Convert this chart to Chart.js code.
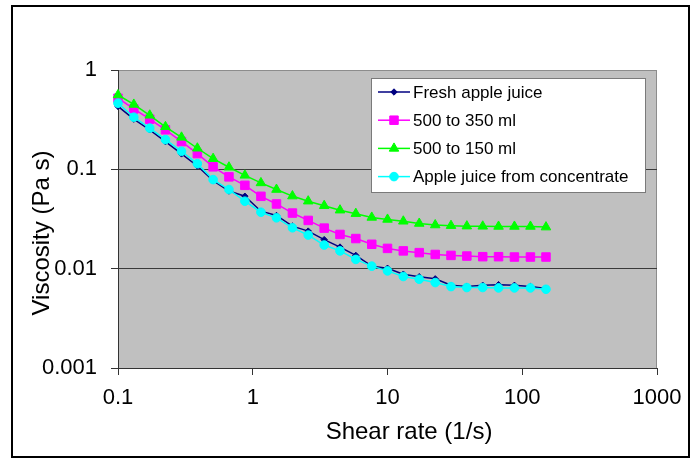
<!DOCTYPE html>
<html>
<head>
<meta charset="utf-8">
<title>Viscosity vs shear rate</title>
<script src="https://cdn.jsdelivr.net/npm/chart.js@4.4.0/dist/chart.umd.min.js"></script>
<style>
  html, body { margin: 0; padding: 0; background: #fff; }
  canvas { display: block; }
</style>
</head>
<body>
<canvas id="viscosityChart" width="699" height="459"></canvas>
<script>
// shear rate (1/s)
const shearRate = [0.1, 0.131, 0.172, 0.225, 0.296, 0.388, 0.508, 0.666, 0.874, 1.15,
    1.5, 1.97, 2.58, 3.39, 4.44, 5.82, 7.64, 10.0, 13.1, 17.2,
    22.6, 29.6, 38.8, 50.9, 66.7, 87.5, 115, 150];

// viscosity (Pa s)
const freshJuice = [0.43, 0.32, 0.25, 0.19, 0.143, 0.108, 0.077, 0.0605, 0.0536, 0.0379,
    0.0343, 0.0268, 0.0239, 0.0196, 0.0165, 0.0136, 0.0106, 0.0101, 0.0088, 0.0083,
    0.0079, 0.0068, 0.0066, 0.0068, 0.0069, 0.0068, 0.0066, 0.0063];
const conc350 = [0.52, 0.405, 0.32, 0.25, 0.19, 0.144, 0.106, 0.084, 0.069, 0.0535,
    0.0448, 0.0363, 0.0306, 0.0256, 0.0221, 0.0201, 0.0176, 0.016, 0.0151, 0.0145,
    0.0139, 0.0136, 0.0134, 0.0132, 0.0132, 0.0131, 0.0131, 0.0131];
const conc150 = [0.56, 0.45, 0.35, 0.268, 0.21, 0.163, 0.128, 0.105, 0.087, 0.073,
    0.0626, 0.0538, 0.0478, 0.043, 0.0388, 0.0358, 0.0328, 0.0313, 0.03, 0.0285,
    0.0275, 0.0271, 0.0268, 0.0267, 0.0266, 0.0266, 0.0266, 0.0262];
const fromConcentrate = [0.463, 0.335, 0.26, 0.199, 0.152, 0.114, 0.0788, 0.0626, 0.0478, 0.037,
    0.0325, 0.0258, 0.0218, 0.0173, 0.0151, 0.0124, 0.0106, 0.0095, 0.00834, 0.00783,
    0.00725, 0.0066, 0.00646, 0.00646, 0.0064, 0.0064, 0.0064, 0.0062];

const seriesNames = ['Fresh apple juice', '500 to 350 ml', '500 to 150 ml', 'Apple juice from concentrate'];
const xTicks = [0.1, 1, 10, 100, 1000];
const yTicks = [0.001, 0.01, 0.1, 1];
const xTitle = 'Shear rate (1/s)';
const yTitle = 'Viscosity (Pa s)';

const FONT = '"Liberation Sans", Arial, sans-serif';

function toPoints(values) {
    return shearRate.map((x, i) => ({ x: x, y: values[i] }));
}

function makeSeries(label, values, color, style, radius, order) {
    return {
        label: label,
        data: toPoints(values),
        borderColor: color,
        backgroundColor: color,
        borderWidth: 1.5,
        pointStyle: style,
        pointRadius: radius,
        pointHoverRadius: radius,
        pointBorderWidth: 1,
        pointBackgroundColor: color,
        pointBorderColor: color,
        tension: 0,
        clip: false,
        order: order
    };
}

// gray plot area, outer frame, axis titles and the boxed legend
const excelLook = {
    id: 'excelLook',
    beforeDraw(chart) {
        const { ctx, chartArea: a } = chart;
        ctx.save();
        ctx.fillStyle = '#fff';
        ctx.fillRect(0, 0, chart.width, chart.height);
        ctx.fillStyle = '#c0c0c0';
        ctx.fillRect(a.left, a.top, a.right - a.left, a.bottom - a.top);
        ctx.strokeStyle = '#8c8c8c';
        ctx.lineWidth = 1;
        ctx.beginPath();
        ctx.moveTo(a.right - 0.5, a.top);
        ctx.lineTo(a.right - 0.5, a.bottom);
        ctx.stroke();
        ctx.strokeStyle = '#000';
        ctx.lineWidth = 2;
        ctx.strokeRect(12, 6, 677, 451);

        // axis titles (Excel puts them a little off the plot centre)
        ctx.fillStyle = '#000';
        ctx.font = '24px ' + FONT;
        ctx.textAlign = 'center';
        ctx.textBaseline = 'middle';
        ctx.fillText(xTitle, 409, 432);
        ctx.translate(42, 233);
        ctx.rotate(-Math.PI / 2);
        ctx.fillText(yTitle, 0, 0);
        ctx.restore();
    },
    afterDraw(chart) {
        const ctx = chart.ctx;
        ctx.save();
        ctx.fillStyle = '#fff';
        ctx.fillRect(371, 78, 274, 114);
        ctx.strokeStyle = '#7a7a7a';
        ctx.lineWidth = 1;
        ctx.strokeRect(371.5, 78.5, 274, 114);
        ctx.font = '17px ' + FONT;
        ctx.textBaseline = 'middle';
        chart.data.datasets.forEach((ds, i) => {
            const y = 92 + i * 28.2;
            ctx.strokeStyle = ds.borderColor;
            ctx.lineWidth = 1.5;
            ctx.beginPath();
            ctx.moveTo(378, y);
            ctx.lineTo(410, y);
            ctx.stroke();
            ctx.fillStyle = ds.pointBackgroundColor;
            ctx.strokeStyle = ds.pointBorderColor;
            ctx.lineWidth = 1;
            Chart.helpers.drawPoint(ctx, {
                pointStyle: ds.pointStyle,
                radius: ds.pointRadius,
                borderWidth: 1,
                rotation: 0
            }, 394, y);
            ctx.fillStyle = '#000';
            ctx.fillText(ds.label, 413, y + 1);
        });
        ctx.restore();
    }
};

const ctx = document.getElementById('viscosityChart').getContext('2d');
new Chart(ctx, {
    type: 'line',
    data: {
        datasets: [
            makeSeries(seriesNames[0], freshJuice, '#000080', 'rectRot', 3.2, 4),
            makeSeries(seriesNames[1], conc350, '#ff00ff', 'rect', 6, 3),
            makeSeries(seriesNames[2], conc150, '#00ff00', 'triangle', 5.5, 2),
            makeSeries(seriesNames[3], fromConcentrate, '#00ffff', 'circle', 4.3, 1)
        ]
    },
    options: {
        responsive: false,
        animation: false,
        layout: { padding: { left: 0, top: 70, right: 42, bottom: 0 } },
        plugins: {
            legend: { display: false },
            tooltip: { enabled: false }
        },
        scales: {
            x: {
                type: 'logarithmic',
                min: 0.1,
                max: 1000,
                afterBuildTicks: axis => { axis.ticks = xTicks.map(v => ({ value: v })); },
                afterFit: axis => {
                    axis.height = 91;
                    axis.paddingLeft = 0;
                    axis.paddingRight = 0;
                },
                ticks: {
                    callback: v => String(v),
                    font: { family: FONT, size: 22 },
                    color: '#000',
                    padding: 10,
                    maxRotation: 0,
                    autoSkip: false
                },
                grid: { drawOnChartArea: false, tickLength: 7, tickColor: '#333' },
                border: { color: '#333', width: 1 }
            },
            y: {
                type: 'logarithmic',
                min: 0.001,
                max: 1,
                afterBuildTicks: axis => { axis.ticks = yTicks.map(v => ({ value: v })); },
                afterFit: axis => {
                    axis.width = 118;
                    axis.paddingTop = 0;
                    axis.paddingBottom = 0;
                },
                ticks: {
                    callback: v => String(v),
                    font: { family: FONT, size: 22 },
                    color: '#000',
                    padding: 14
                },
                grid: {
                    color: c => (c.tick && c.tick.value === 1 ? '#8c8c8c' : '#3a3a3a'),
                    tickColor: '#333',
                    tickLength: 7,
                    lineWidth: 1
                },
                border: { color: '#333', width: 1 }
            }
        }
    },
    plugins: [excelLook]
});
</script>
</body>
</html>
